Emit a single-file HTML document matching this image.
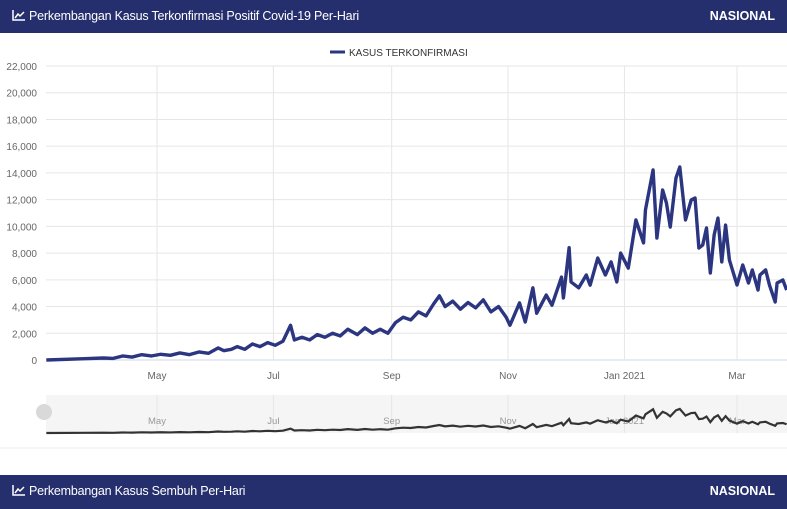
<!DOCTYPE html>
<html><head><meta charset="utf-8"><style>
body{margin:0;width:787px;height:509px;background:#fff;font-family:"Liberation Sans",sans-serif;overflow:hidden;position:relative}
.hdr{position:absolute;left:0;width:787px;height:33px;background:#252f6e;color:#fff;font-size:12.5px}
.hdr .t{position:absolute;left:12px;top:9px;letter-spacing:-0.2px}
.hdr .n{position:absolute;right:12px;top:9px;font-weight:bold;font-size:12.5px}
.hdr svg{vertical-align:-1px;margin-right:4px}
svg text{font-family:"Liberation Sans",sans-serif}
</style></head><body>
<div class="hdr" style="top:0"><span class="t"><svg width="13" height="11" viewBox="0 0 13 11"><path d="M1 0V10H13" stroke="#fff" stroke-width="1.5" fill="none"/><path d="M3 8L6 4L8 6L12 2" stroke="#fff" stroke-width="1.5" fill="none"/></svg>Perkembangan Kasus Terkonfirmasi Positif Covid-19 Per-Hari</span><span class="n">NASIONAL</span></div>
<svg id="c" width="787" height="509" style="position:absolute;left:0;top:0"></svg>
<div class="hdr" style="top:475px;height:34px"><span class="t"><svg width="13" height="11" viewBox="0 0 13 11"><path d="M1 0V10H13" stroke="#fff" stroke-width="1.5" fill="none"/><path d="M3 8L6 4L8 6L12 2" stroke="#fff" stroke-width="1.5" fill="none"/></svg>Perkembangan Kasus Sembuh Per-Hari</span><span class="n">NASIONAL</span></div>
<script>
const days=[2,22,32,37,42,47,52,57,62,67,72,77,82,87,92,95,99,102,106,110,114,118,122,126,130,132,136,140,144,148,152,156,160,165,169,173,177,181,185,189,193,197,201,205,208,211,215,219,223,227,231,235,239,243,245,250,253,257,259,264,267,272,273,276,277,281,285,287,291,295,298,301,303,307,311,315,316,320,322,325,327,329,332,334,337,340,342,344,346,348,350,352,354,356,358,360,364,367,370,372,375,376,379,381,384,385,388,390];
const cases=[0,100,150,120,300,220,400,300,430,350,530,400,600,500,900,700,800,1000,800,1200,1000,1300,1100,1400,2600,1500,1700,1500,1900,1700,2000,1800,2300,1900,2400,2000,2300,2000,2800,3200,3000,3600,3300,4200,4800,4000,4400,3800,4300,3900,4500,3600,4000,3200,2600,4270,2840,5400,3500,4860,4100,6200,4640,8400,5840,5400,6360,5600,7630,6360,7340,5840,8000,6880,10480,8760,11230,14220,9130,12720,11750,9950,13620,14440,10480,11980,12120,8380,8600,9880,6510,9350,10620,7340,10100,7480,5610,7110,5760,6740,5240,6360,6740,5610,4340,5760,5990,5240];
const yTicks=[0,2000,4000,6000,8000,10000,12000,14000,16000,18000,20000,22000];
const monthLabels=["May","Jul","Sep","Nov","Jan 2021","Mar"];
const monthDays=[60,121,183,244,305,364];
const svg=document.getElementById('c'),NS="http://www.w3.org/2000/svg";
const X0=46,X1=787;
const x=d=>157+(d-60)*1.908;
const y=v=>360-v*294/22000;
const ny=v=>433-v*25/15000;
function el(t,a,p){const e=document.createElementNS(NS,t);for(const k in a)e.setAttribute(k,a[k]);(p||svg).appendChild(e);return e;}
yTicks.forEach(v=>{
 const l=el('line',{x1:X0,x2:X1,y1:y(v),y2:y(v),stroke:v?'#e6e6e6':'#ccd6eb','stroke-width':1});
 
 
 const t=el('text',{x:37,y:y(v)+4,'text-anchor':'end','font-size':10,fill:'#666'});t.textContent=v.toLocaleString('en-US');
 
 
});
const nb=el('rect',{x:X0,y:395,width:X1-X0,height:38,fill:'#f5f5f5'});


monthDays.forEach((d,i)=>{
 const g=el('line',{x1:x(d),x2:x(d),y1:66,y2:360,stroke:'#e6e6e6'});
 
 
 const t=el('text',{x:x(d),y:379,'text-anchor':'middle','font-size':10,fill:'#666'});t.textContent=monthLabels[i];
 
 
 const g2=el('line',{x1:x(d),x2:x(d),y1:395,y2:433,stroke:'#e6e6e6'});
 
 
 const t2=el('text',{x:x(d),y:424,'text-anchor':'middle','font-size':9.5,fill:'#999'});t2.textContent=monthLabels[i];
 
 
});
const p=el('polyline',{points:days.map((d,i)=>x(d)+','+y(cases[i])).join(' '),fill:'none',stroke:'#2b3580','stroke-width':3.4,'stroke-linejoin':'round'});


const np=el('polyline',{points:days.map((d,i)=>x(d)+','+ny(cases[i])).join(' '),fill:'none',stroke:'#333','stroke-width':2.2});


const h=el('circle',{cx:44,cy:412,r:8,fill:'#d9d9d9'});


const sep=el('line',{x1:0,x2:787,y1:448,y2:448,stroke:'#eee'});


const lg=el('line',{x1:330,x2:345,y1:52,y2:52,stroke:'#2b3580','stroke-width':3});


const lt=el('text',{x:349,y:56,'font-size':10,fill:'#333'});lt.textContent='KASUS TERKONFIRMASI';


</script>
</body></html>
